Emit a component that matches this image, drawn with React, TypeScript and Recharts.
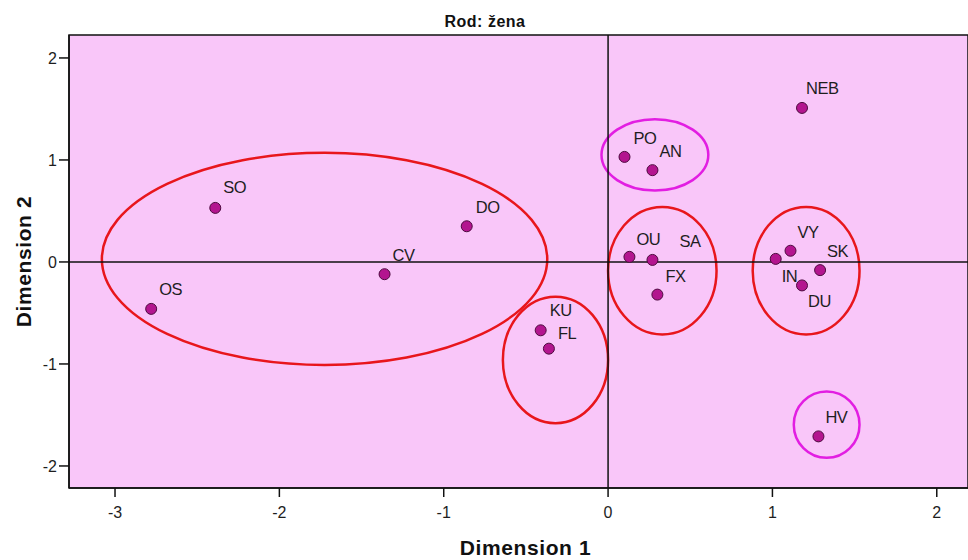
import {
  ScatterChart, Scatter, XAxis, YAxis, ReferenceArea, ReferenceLine,
} from 'recharts';

// MDS object points, "Rod: žena"
const names = ['NEB', 'PO', 'AN', 'SO', 'DO', 'CV', 'OS', 'OU', 'SA', 'FX', 'IN', 'VY', 'SK', 'DU', 'KU', 'FL', 'HV'];
const dim1 = [1.18, 0.10, 0.27, -2.39, -0.86, -1.36, -2.78, 0.13, 0.27, 0.30, 1.02, 1.11, 1.29, 1.18, -0.41, -0.36, 1.28];
const dim2 = [1.51, 1.03, 0.90, 0.53, 0.35, -0.12, -0.46, 0.05, 0.02, -0.32, 0.03, 0.11, -0.08, -0.23, -0.67, -0.85, -1.71];

const xTicks = [-3, -2, -1, 0, 1, 2];
const yTicks = [-2, -1, 0, 1, 2];
const xDomain = [-3.28, 2.19];
const yDomain = [-2.216, 2.225];

// hand-drawn group outlines (data units)
const groupX1 = [-3.08, -0.64, 0.0, 0.88, -0.04, 1.13];
const groupX2 = [-0.37, 0.0, 0.66, 1.53, 0.61, 1.53];
const groupY1 = [-1.01, -1.58, -0.71, -0.71, 0.70, -1.92];
const groupY2 = [1.07, -0.34, 0.54, 0.54, 1.40, -1.27];
const groupKind = ['red', 'red', 'red', 'red', 'pink', 'pink'];

const points = names.map((name, i) => ({ name, x: dim1[i], y: dim2[i] }));

const FONT = '"Liberation Sans", Arial, sans-serif';
const BG = '#f9c6f9';
const DOT = '#b3158f';
const OUTLINE = { red: '#e8161c', pink: '#e21ee2' } as Record<string, string>;

// label offset from the dot (px): [dx, baseline dy]
const labelOffset: Record<string, [number, number]> = {
  NEB: [4, -14], SO: [8, -15], DO: [9, -13], CV: [8, -13], OS: [8, -14],
  KU: [9, -14], FL: [9, -10], PO: [9, -13], AN: [7, -13], OU: [7, -12],
  SA: [27, -13], FX: [8, -13], VY: [7, -13], SK: [7, -13], IN: [6, 23],
  DU: [6, 22], HV: [7, -13],
};

function PointShape(props: any) {
  const { cx, cy, payload } = props;
  if (cx == null || cy == null) return null;
  const [dx, dy] = labelOffset[payload.name] ?? [7, -13];
  return (
    <g>
      <circle cx={cx} cy={cy} r={5.5} fill={DOT} stroke="#4d0a3f" strokeWidth={1} />
      <text x={cx + dx} y={cy + dy} fontSize={16.5} letterSpacing={-0.5} fill="#1e1e1e" fontFamily={FONT}>
        {payload.name}
      </text>
    </g>
  );
}

function ellipseShape(color: string) {
  return (p: any) => (
    <ellipse
      cx={p.x + p.width / 2}
      cy={p.y + p.height / 2}
      rx={Math.abs(p.width) / 2}
      ry={Math.abs(p.height) / 2}
      fill="none"
      stroke={color}
      strokeWidth={2.5}
    />
  );
}

const tickStyle = { fontSize: 16, fill: '#1e1e1e', fontFamily: FONT };

function XTitle({ viewBox }: any) {
  return (
    <text x={viewBox.x + viewBox.width / 2 + 7} y={555} textAnchor="middle"
      fontSize={21} fontWeight="bold" letterSpacing={0.6} fill="#111" fontFamily={FONT}>
      Dimension 1
    </text>
  );
}

function YTitle({ viewBox }: any) {
  const cy = viewBox.y + viewBox.height / 2;
  return (
    <text x={31} y={cy} textAnchor="middle" transform={`rotate(-90 31 ${cy})`}
      fontSize={21} fontWeight="bold" letterSpacing={0.6} fill="#111" fontFamily={FONT}>
      Dimension 2
    </text>
  );
}

export default function App() {
  return (
    <div style={{ position: 'absolute', left: 0, top: 0, width: 968, height: 560, background: '#fff' }}>
      <div style={{
        position: 'absolute', left: 0, top: 13, width: 970, textAlign: 'center',
        fontFamily: FONT, fontWeight: 'bold', fontSize: 16, letterSpacing: 0.5, color: '#111',
      }}>
        Rod: žena
      </div>
      <ScatterChart width={968} height={560} margin={{ top: 35, right: 0, bottom: 0, left: 0 }}>
        <XAxis type="number" dataKey="x" domain={xDomain} ticks={xTicks} allowDataOverflow
          height={72} tickSize={9} tickMargin={10} tick={tickStyle}
          axisLine={{ stroke: '#111', strokeWidth: 1.5 }} tickLine={{ stroke: '#111', strokeWidth: 1.5 }}
          label={<XTitle />} />
        <YAxis type="number" dataKey="y" domain={yDomain} ticks={yTicks} allowDataOverflow
          width={69} tickSize={10} tickMargin={2} tick={tickStyle}
          axisLine={{ stroke: '#111', strokeWidth: 1.5 }} tickLine={{ stroke: '#111', strokeWidth: 1.5 }}
          label={<YTitle />} />
        <ReferenceArea x1={xDomain[0]} x2={xDomain[1]} y1={yDomain[0]} y2={yDomain[1]}
          fill={BG} fillOpacity={1} stroke="#111" strokeWidth={1.5} />
        <ReferenceLine x={0} stroke="#111" strokeWidth={1.5} />
        <ReferenceLine y={0} stroke="#111" strokeWidth={1.5} />
        {groupKind.map((kind, i) => (
          <ReferenceArea key={i} x1={groupX1[i]} x2={groupX2[i]} y1={groupY1[i]} y2={groupY2[i]}
            ifOverflow="visible" shape={ellipseShape(OUTLINE[kind])} />
        ))}
        <Scatter data={points} shape={<PointShape />} isAnimationActive={false} />
      </ScatterChart>
    </div>
  );
}
